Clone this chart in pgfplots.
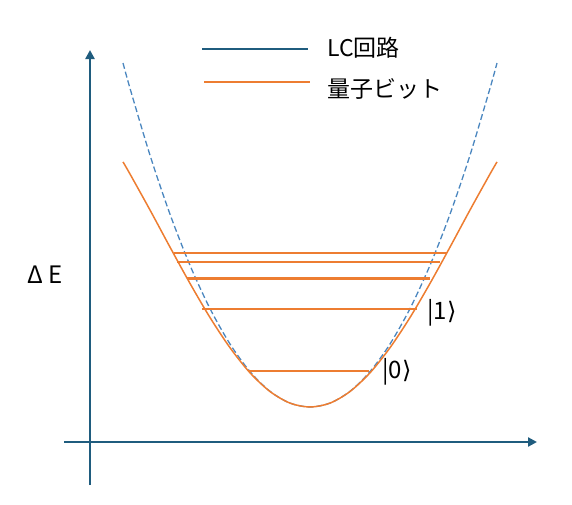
\documentclass[border=0pt]{standalone}
\usepackage{fontspec}
\setmainfont{Noto Sans CJK JP}
\newfontfamily\symfont{DejaVu Sans}
\usepackage{pgfplots}
\pgfplotsset{compat=1.18}
\usetikzlibrary{arrows.meta}

\definecolor{axiscol}{HTML}{1F5C7E}
\definecolor{lcblue}{HTML}{4A86BF}
\definecolor{qorange}{HTML}{ED7D31}

\begin{document}
\begin{tikzpicture}
\begin{axis}[
    scale only axis,
    width=572pt, height=504pt,
    xmin=0, xmax=572, ymin=0, ymax=504,
    y dir=reverse,
    hide axis,
    clip=false,
]
% frame the page
\addplot[draw=none] coordinates {(0,0) (572,504)};

% axes
\addplot[axiscol, line width=2.4pt, -{Triangle[length=9pt,width=9pt]}]
    coordinates {(90,485) (90,50)};
\addplot[axiscol, line width=2.4pt, -{Triangle[length=9pt,width=9pt]}]
    coordinates {(64,442) (537,442)};

% LC circuit: harmonic potential
\addplot[lcblue, line width=1.3pt, dash pattern=on 6pt off 3pt, smooth]
    coordinates {
    (123,63) (130,88.3) (150,155.2) (170,214.2) (190,265.3) (210,308.6)
    (230,344.0) (250,371.6) (270,391.3) (290,403.1) (310,407)
    (330,403.1) (350,391.3) (370,371.6) (390,344.0) (410,308.6)
    (430,265.3) (450,214.2) (470,155.2) (490,88.3) (497,63)
    };

% qubit: anharmonic potential
\addplot[qorange, line width=1.5pt, smooth]
    coordinates {
    (123,161.9) (130,174.0) (150,210.0) (170,247.1) (190,283.4) (210,317.5)
    (230,347.7) (250,372.8) (270,391.5) (290,403.1) (310,407)
    (330,403.1) (350,391.5) (370,372.8) (390,347.7) (410,317.5)
    (430,283.4) (450,247.1) (470,210.0) (490,174.0) (497,161.9)
    };

% energy levels
\addplot[qorange, line width=2.4pt] coordinates {(174,253) (447,253)};
\addplot[qorange, line width=2.4pt] coordinates {(177,262) (440,262)};
\addplot[qorange, line width=2.4pt] coordinates {(187,278.5) (430,278.5)};
\addplot[qorange, line width=2.4pt] coordinates {(202,309) (417,309)};
\addplot[qorange, line width=2.4pt] coordinates {(248,371) (369,371)};

% legend
\addplot[axiscol, line width=2pt] coordinates {(202,48.5) (308,48.5)};
\addplot[qorange, line width=2pt] coordinates {(204,82) (310,82)};
\node[anchor=west, inner sep=0, font=\fontsize{23}{26}\selectfont]
    at (axis cs:327,47.5) {LC回路};
\node[anchor=west, inner sep=0, font=\fontsize{23}{26}\selectfont]
    at (axis cs:327,89) {量子ビット};

% labels
\node[anchor=west, inner sep=0, font=\fontsize{24}{26}\selectfont]
    at (axis cs:27,275) {Δ E};
\node[anchor=west, inner sep=0, font=\fontsize{24}{26}\selectfont]
    at (axis cs:427,313) {|1{\symfont ⟩}};
\node[anchor=west, inner sep=0, font=\fontsize{24}{26}\selectfont]
    at (axis cs:382,372) {|0{\symfont ⟩}};
\end{axis}
\end{tikzpicture}
\end{document}
